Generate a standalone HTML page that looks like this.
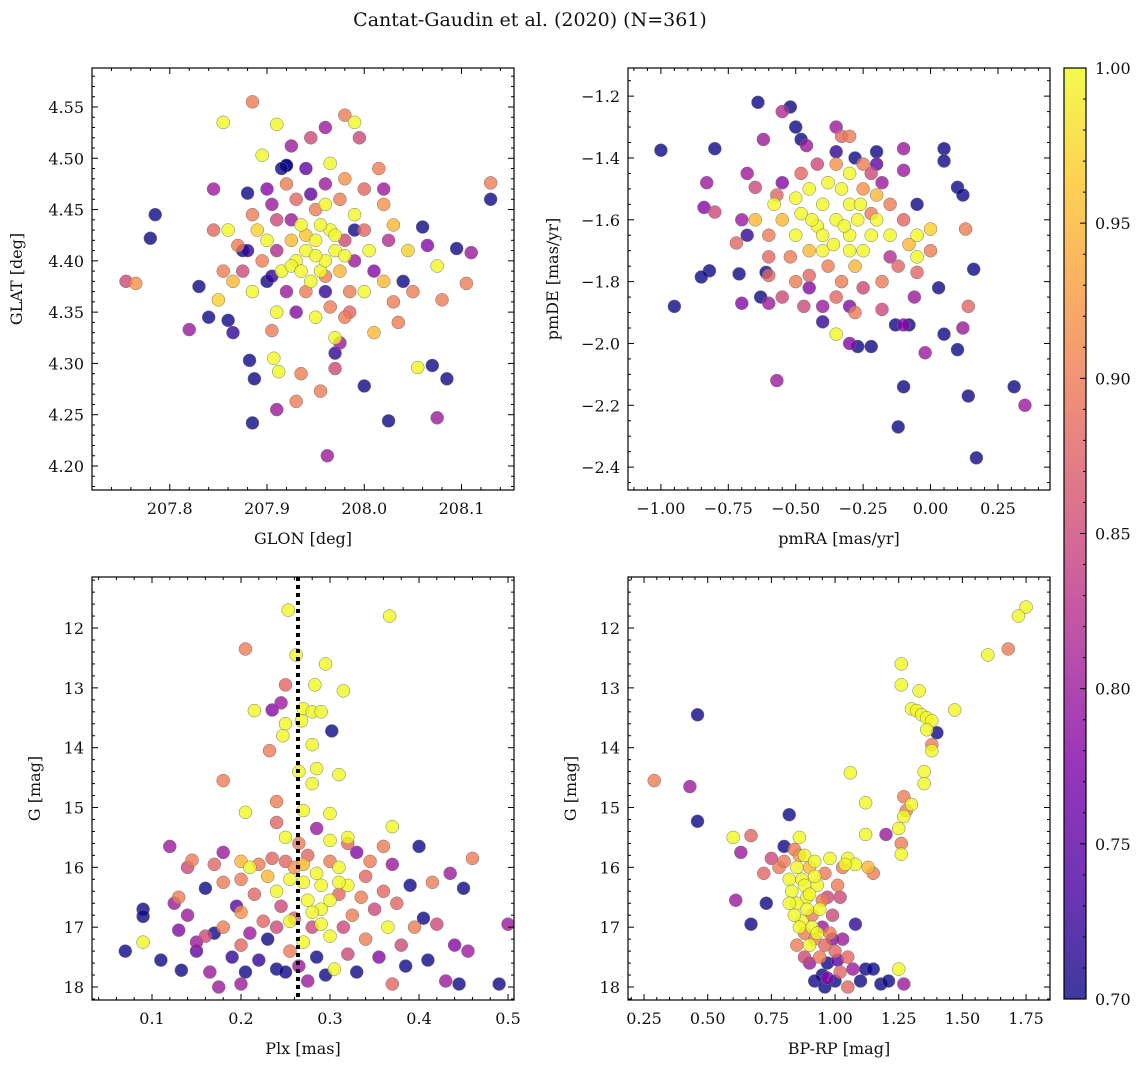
<!DOCTYPE html>
<html><head><meta charset="utf-8"><style>
body{margin:0;background:#fff;}
svg text{font-family:"DejaVu Serif","Liberation Serif",serif;fill:#111;}
</style></head><body>
<svg id="fig" width="1148" height="1067" viewBox="0 0 1148 1067" xmlns="http://www.w3.org/2000/svg">
<defs><linearGradient id="plasma" x1="0" y1="1" x2="0" y2="0">
<stop offset="0" stop-color="#0d0887"/><stop offset="0.125" stop-color="#4c02a1"/><stop offset="0.25" stop-color="#7e03a8"/><stop offset="0.375" stop-color="#a92395"/><stop offset="0.5" stop-color="#cc4778"/><stop offset="0.625" stop-color="#e66c5c"/><stop offset="0.75" stop-color="#f89540"/><stop offset="0.875" stop-color="#fdc527"/><stop offset="1" stop-color="#f0f921"/></linearGradient></defs>
<text x="530" y="26" font-size="19" text-anchor="middle">Cantat-Gaudin et al. (2020) (N=361)</text>
</svg>
<script>
// Panel 1: GLON vs GLAT
const p1x=[207.755,207.765,207.78,207.785,207.82,207.83,207.84,207.845,207.85,207.855,207.86,207.865,207.875,207.88,207.882,207.885,207.885,207.887,207.895,207.9,207.905,207.907,207.91,207.912,207.91,207.92,207.925,207.93,207.935,207.945,207.955,207.96,207.962,207.965,207.97,207.975,207.98,207.99,207.995,208.0,208.01,208.015,208.025,208.03,208.04,208.055,208.07,208.075,208.085,208.08,208.075,208.095,208.105,208.11,208.13,208.13,208.06,208.065,208.045,208.05,208.035,208.02,207.93,207.94,207.95,207.955,207.96,207.965,207.97,207.945,207.925,207.915,207.935,207.95,207.96,207.975,207.98,207.99,207.985,207.94,207.92,207.905,207.895,207.9,207.91,207.93,207.945,207.975,207.99,208.0,208.005,208.01,208.0,207.985,207.965,207.95,207.93,207.91,207.885,207.875,207.89,207.885,207.905,207.92,207.96,207.98,208.0,208.02,208.025,208.02,207.955,207.94,207.97,207.925,207.96,207.935,207.95,207.98,207.91,207.925,207.86,207.87,207.865,207.92,207.915,207.94,207.88,207.9,207.96,207.99,207.97,208.03,207.845,207.855,207.97,207.98];
const p1y=[4.38,4.378,4.422,4.445,4.333,4.375,4.345,4.47,4.362,4.535,4.342,4.33,4.41,4.466,4.303,4.555,4.242,4.285,4.503,4.47,4.332,4.305,4.255,4.292,4.533,4.493,4.512,4.263,4.29,4.52,4.273,4.53,4.21,4.495,4.31,4.32,4.542,4.535,4.52,4.278,4.33,4.49,4.244,4.435,4.38,4.296,4.298,4.247,4.285,4.362,4.395,4.412,4.378,4.408,4.476,4.46,4.433,4.415,4.41,4.37,4.34,4.47,4.40,4.41,4.42,4.39,4.40,4.43,4.41,4.38,4.42,4.39,4.435,4.45,4.455,4.39,4.42,4.40,4.37,4.37,4.37,4.385,4.40,4.42,4.44,4.46,4.465,4.46,4.445,4.43,4.41,4.39,4.37,4.35,4.355,4.345,4.35,4.35,4.37,4.39,4.43,4.445,4.455,4.475,4.475,4.48,4.47,4.455,4.42,4.38,4.435,4.425,4.425,4.395,4.385,4.39,4.405,4.405,4.41,4.44,4.43,4.415,4.38,4.493,4.49,4.49,4.41,4.38,4.37,4.43,4.325,4.36,4.43,4.39,4.295,4.345];
const p1p=[0.85,0.92,0.7,0.7,0.8,0.7,0.7,0.8,0.97,1,0.7,0.72,0.7,0.7,0.7,0.9,0.7,0.7,1,0.78,0.9,1,0.8,1,1,0.7,0.8,0.9,0.9,0.85,0.9,0.8,0.8,1,0.72,0.8,0.9,1,0.85,0.7,0.95,0.9,0.7,0.95,0.7,1,0.7,0.8,0.7,0.9,1,0.7,0.9,0.8,0.9,0.7,0.7,0.78,0.97,0.9,0.9,0.8,1,1,1,1,1,1,1,1,0.95,1,1,0.9,1,0.95,0.85,0.8,0.9,0.9,0.8,0.72,0.9,1,0.85,0.88,0.75,0.9,1,0.88,1,0.78,1,0.88,0.9,1,0.78,1,1,0.85,0.97,0.9,0.8,0.9,0.8,0.92,0.88,0.92,0.82,0.95,1,0.96,1,1,0.9,1,1,1,0.82,0.8,1,0.9,0.95,0.7,0.7,0.75,0.72,0.7,0.72,0.7,1,0.9,0.88,0.9,0.85,0.9];
// Panel 2: pmRA vs pmDE
const p2x=[-1.0,-0.95,-0.8,-0.82,-0.85,-0.84,-0.83,-0.8,-0.72,-0.7,-0.7,-0.68,-0.68,-0.71,-0.65,-0.64,-0.62,-0.63,-0.6,-0.61,-0.57,-0.57,-0.55,-0.52,-0.5,-0.48,-0.46,-0.4,-0.35,-0.33,-0.3,-0.28,-0.2,-0.22,-0.1,-0.1,-0.05,0.05,0.05,0.1,0.12,0.13,0.16,0.14,0.12,0.1,0.05,0.03,-0.02,-0.05,-0.06,-0.08,-0.1,-0.13,-0.18,-0.1,-0.12,0.14,0.17,0.31,0.35,-0.27,-0.3,-0.22,-0.35,-0.4,-0.45,-0.5,-0.55,-0.6,-0.45,-0.4,-0.35,-0.3,-0.25,-0.3,-0.38,-0.42,-0.48,-0.5,-0.45,-0.2,-0.15,-0.28,-0.33,-0.38,-0.45,-0.52,-0.55,-0.58,-0.3,-0.25,-0.2,-0.15,-0.1,-0.05,0.0,-0.05,-0.12,-0.18,-0.25,-0.35,-0.4,-0.28,-0.42,-0.35,-0.25,-0.18,-0.48,-0.55,-0.36,-0.32,-0.27,-0.44,-0.4,-0.3,-0.22,-0.5,-0.6,-0.65,-0.15,-0.08,0.0,-0.33,-0.26,-0.22,-0.6,-0.47,-0.3,-0.2,-0.35];
const p2y=[-1.375,-1.88,-1.37,-1.765,-1.785,-1.56,-1.48,-1.575,-1.675,-1.87,-1.6,-1.65,-1.45,-1.775,-1.495,-1.22,-1.34,-1.85,-1.87,-1.77,-2.12,-1.52,-1.25,-1.235,-1.3,-1.34,-1.36,-1.7,-1.3,-1.33,-1.33,-1.4,-1.38,-1.45,-1.37,-1.44,-1.55,-1.37,-1.41,-1.495,-1.52,-1.63,-1.76,-1.88,-1.95,-2.02,-1.97,-1.82,-2.03,-1.77,-1.85,-1.94,-1.94,-1.94,-1.89,-2.14,-2.27,-2.17,-2.37,-2.14,-2.2,-2.01,-2.0,-2.01,-1.97,-1.93,-1.82,-1.8,-1.85,-1.72,-1.5,-1.55,-1.6,-1.65,-1.7,-1.55,-1.48,-1.62,-1.58,-1.65,-1.7,-1.6,-1.65,-1.75,-1.8,-1.75,-1.78,-1.72,-1.6,-1.55,-1.45,-1.5,-1.52,-1.55,-1.6,-1.65,-1.7,-1.72,-1.75,-1.8,-1.82,-1.85,-1.88,-1.9,-1.42,-1.42,-1.42,-1.48,-1.45,-1.48,-1.68,-1.62,-1.6,-1.6,-1.65,-1.7,-1.65,-1.53,-1.65,-1.6,-1.72,-1.68,-1.63,-1.5,-1.55,-1.58,-1.78,-1.88,-1.88,-1.42,-1.38];
const p2p=[0.7,0.7,0.7,0.7,0.7,0.78,0.8,0.85,0.88,0.78,0.8,0.72,0.8,0.7,0.85,0.7,0.8,0.7,0.8,0.7,0.8,0.88,0.82,0.7,0.7,0.7,0.8,1,0.8,0.88,0.9,0.7,0.7,0.85,0.8,0.8,0.7,0.7,0.7,0.7,0.7,0.9,0.7,0.88,0.8,0.7,0.7,0.7,0.8,0.88,0.8,0.7,0.78,0.7,0.85,0.7,0.7,0.7,0.7,0.7,0.8,0.7,0.78,0.7,1,0.72,0.78,0.9,0.85,0.88,1,1,1,1,1,1,1,1,1,1,0.95,1,1,0.95,0.9,0.9,0.88,0.9,0.95,1,1,0.92,0.95,0.9,0.88,1,0.9,1,0.88,0.9,0.85,0.88,0.8,0.9,0.85,0.92,0.9,0.8,0.88,0.78,1,1,1,1,1,1,1,1,0.9,0.95,0.82,0.95,0.97,1,1,0.9,0.88,0.85,0.78,0.75,0.72];
// Panel 3: Plx vs G
const p3x=[0.253,0.367,0.205,0.262,0.295,0.283,0.315,0.25,0.245,0.235,0.215,0.27,0.28,0.29,0.268,0.25,0.247,0.302,0.232,0.28,0.265,0.28,0.285,0.31,0.18,0.24,0.27,0.3,0.205,0.32,0.37,0.24,0.25,0.285,0.07,0.09,0.09,0.09,0.11,0.12,0.125,0.13,0.13,0.133,0.14,0.14,0.145,0.15,0.15,0.16,0.16,0.165,0.17,0.17,0.175,0.18,0.18,0.18,0.19,0.195,0.2,0.2,0.2,0.2,0.205,0.2,0.21,0.21,0.215,0.22,0.22,0.225,0.23,0.23,0.235,0.24,0.24,0.24,0.245,0.25,0.25,0.255,0.255,0.26,0.26,0.265,0.27,0.27,0.275,0.275,0.275,0.28,0.285,0.285,0.29,0.29,0.295,0.3,0.3,0.3,0.305,0.31,0.31,0.315,0.32,0.32,0.32,0.325,0.33,0.33,0.335,0.34,0.34,0.345,0.35,0.355,0.36,0.36,0.365,0.37,0.37,0.375,0.38,0.385,0.39,0.395,0.4,0.405,0.41,0.415,0.42,0.43,0.435,0.44,0.445,0.45,0.455,0.46,0.49,0.5,0.3,0.265,0.28,0.29,0.255,0.31,0.27];
const p3y=[11.7,11.8,12.35,12.45,12.6,12.95,13.05,12.95,13.25,13.37,13.38,13.35,13.4,13.4,13.55,13.6,13.8,13.72,14.05,13.95,14.4,14.6,14.35,14.45,14.55,14.9,15.05,15.1,15.08,15.5,15.32,15.25,15.5,15.35,17.4,16.7,16.82,17.25,17.55,15.65,16.6,16.5,17.05,17.72,16.0,16.8,15.88,17.25,17.4,16.35,17.15,17.75,15.95,17.1,18.0,15.75,16.25,17.0,17.5,16.65,15.9,16.2,16.75,17.3,17.75,17.95,16.0,17.1,16.45,15.95,17.55,16.9,16.15,17.2,15.85,16.4,17.7,17.0,16.65,15.9,17.75,16.2,17.4,16.0,16.85,17.65,16.25,17.25,15.8,16.55,17.9,17.0,16.1,17.5,16.3,16.7,17.8,15.9,16.55,17.15,17.7,16.0,16.45,17.0,15.6,16.3,17.45,16.8,15.75,17.75,16.5,16.15,17.2,15.9,16.7,17.5,15.65,16.4,17.0,15.95,17.95,16.6,17.3,17.65,16.3,17.0,15.65,16.85,17.55,16.25,16.95,17.9,16.1,17.3,17.95,16.35,17.4,15.85,17.95,16.95,15.55,15.6,16.75,16.95,16.9,16.25,15.95];
const p3p=[1,1,0.9,1,1,1,1,0.88,0.8,0.78,1,1,1,1,1,1,1,0.7,0.9,1,1,1,1,1,0.9,0.9,1,1,1,1,1,0.88,1,0.8,0.7,0.7,0.7,1,0.7,0.8,0.8,0.9,0.78,0.7,0.85,0.8,0.9,0.8,0.75,0.7,0.85,0.8,0.88,0.7,0.8,0.8,0.9,0.9,0.72,0.75,0.95,0.9,0.92,0.88,0.7,0.8,1,0.8,0.88,0.9,0.72,0.88,0.95,0.7,0.88,1,0.7,0.85,0.85,0.88,0.7,1,0.9,0.92,0.88,0.8,1,1,0.88,1,0.8,0.85,1,0.7,1,1,0.7,0.9,1,1,1,1,0.88,0.85,0.88,1,0.85,0.9,0.78,0.7,0.9,0.88,0.9,0.9,0.85,0.78,0.9,0.88,1,0.8,0.88,0.88,0.85,0.7,0.7,0.9,0.7,0.7,0.7,0.9,0.85,0.8,0.8,0.78,0.7,0.7,0.8,0.9,0.7,0.8,1,0.9,1,1,1,1,0.95];
// Panel 4: BP-RP vs G
const p4x=[1.75,1.72,1.68,1.6,1.26,1.26,1.33,1.47,1.3,1.32,1.34,1.36,1.38,1.4,1.38,1.38,1.36,1.35,1.35,1.27,1.3,1.28,1.27,1.25,1.26,1.26,1.2,1.12,1.12,1.06,1.05,1.08,1.13,1.15,1.25,0.29,0.43,0.46,0.46,0.6,0.61,0.63,0.67,0.67,0.72,0.73,0.75,0.8,0.82,0.78,0.8,0.82,0.83,0.84,0.85,0.85,0.86,0.87,0.87,0.88,0.88,0.89,0.9,0.9,0.9,0.91,0.92,0.92,0.93,0.94,0.94,0.95,0.95,0.96,0.96,0.97,0.97,0.98,0.98,0.99,1.0,1.0,1.01,1.02,1.03,1.03,1.05,1.05,1.07,1.08,1.1,1.12,1.15,1.18,1.21,1.27,0.92,0.96,0.86,0.84,0.88,0.89,0.91,0.93,0.82,0.86,0.95,0.99,1.01,0.97,1.04,0.9,0.85,0.88,0.92,1.02];
const p4y=[11.65,11.8,12.35,12.45,12.6,12.95,13.05,13.37,13.35,13.38,13.45,13.5,13.55,13.75,13.95,14.05,13.7,14.4,14.6,14.82,14.95,15.05,15.15,15.35,15.6,15.78,15.45,15.45,14.92,14.42,15.85,15.95,16.0,16.1,17.7,14.55,14.65,13.45,15.23,15.5,16.55,15.75,15.47,16.95,16.1,16.6,15.85,15.65,15.12,16.0,15.9,16.2,16.4,15.7,16.0,16.6,15.5,16.2,16.9,17.1,15.8,16.5,17.3,16.0,17.6,16.8,15.9,17.2,16.3,17.5,16.7,17.0,17.8,16.1,17.3,16.5,17.6,15.85,17.1,16.8,17.4,17.9,16.3,17.75,17.2,16.0,17.5,18.0,17.7,16.95,17.9,17.7,17.7,17.95,17.9,17.95,17.9,18.0,17.0,16.8,16.3,16.7,17.0,17.1,16.6,15.8,16.55,17.2,17.55,17.85,15.95,16.45,17.3,17.5,16.15,16.5];
const p4p=[1,1,0.9,1,1,1,1,1,1,1,1,1,1,0.7,0.9,1,1,1,1,0.9,1,0.9,1,1,0.9,1,0.8,1,1,1,1,1,0.95,0.9,1,0.9,0.8,0.7,0.7,1,0.8,0.8,0.88,0.7,0.88,0.7,0.85,0.7,0.7,0.9,0.9,1,1,0.9,1,1,1,1,1,0.9,1,1,1,0.95,0.8,0.9,1,0.9,1,0.9,1,0.8,0.7,0.9,0.88,0.85,0.7,1,0.9,0.85,0.88,0.7,0.9,0.88,0.8,0.9,0.88,0.88,0.8,0.72,0.7,0.7,0.7,0.7,0.7,0.8,0.7,0.7,1,1,1,1,1,1,1,0.92,0.9,0.78,0.75,0.78,1,1,0.9,0.85,1,0.85];
// Colorbar ticks
const cbTicks=[0.70,0.75,0.80,0.85,0.90,0.95,1.00];

const NS='http://www.w3.org/2000/svg';
const svg=document.getElementById('fig');
function mk(tag,attrs,parent){const e=document.createElementNS(NS,tag);for(const k in attrs)e.setAttribute(k,attrs[k]);(parent||svg).appendChild(e);return e;}
const stops=[[0,[13,8,135]],[0.125,[76,2,161]],[0.25,[126,3,168]],[0.375,[169,35,149]],[0.5,[204,71,120]],[0.625,[230,108,92]],[0.75,[248,149,64]],[0.875,[253,197,39]],[1,[240,249,33]]];
function cmap(p){let t=Math.max(0,Math.min(1,(p-0.7)/0.3));for(let i=1;i<stops.length;i++){if(t<=stops[i][0]){const a=stops[i-1],b=stops[i];const f=(t-a[0])/(b[0]-a[0]);const c=a[1].map((v,j)=>Math.round(v+(b[1][j]-v)*f));return `rgb(${c})`;}}return 'rgb(240,249,33)';}
function fmt(v,d){let s=Math.abs(v).toFixed(d);return (v<-1e-9?'\u2212':'')+s;}

function panel(cfg){
  const {name,x0,y0,w,h,xmin,xmax,ymin,ymax,invY,xs,ys,ps,xMaj,xMin,yMaj,yMin,xd,yd,xlabel,ylabel,ylx}=cfg;
  const g=mk('g',{});
  
  
  const sx=v=>x0+(v-xmin)/(xmax-xmin)*w;
  const sy=v=>invY? y0+(v-ymin)/(ymax-ymin)*h : y0+h-(v-ymin)/(ymax-ymin)*h;
  const clip='c'+name;const cp=mk('clipPath',{id:clip},g);mk('rect',{x:x0,y:y0,width:w,height:h},cp);
  const pts=mk('g',{'clip-path':`url(#${clip})`},g);
  
  
  const idx=ps.map((p,i)=>i).sort((a,b)=>ps[a]-ps[b]);
  idx.forEach(i=>{const c=mk('circle',{cx:sx(xs[i]),cy:sy(ys[i]),r:6.5,fill:cmap(ps[i]),'fill-opacity':0.8,stroke:'#777','stroke-width':0.5},pts);
    
    });
  if(cfg.vline!==undefined){const l=mk('line',{x1:sx(cfg.vline),x2:sx(cfg.vline),y1:y0,y2:y0+h,stroke:'#000','stroke-width':4,'stroke-dasharray':'4,4'},g);
    
    }
  mk('rect',{x:x0,y:y0,width:w,height:h,fill:'none',stroke:'#000','stroke-width':1.2},g);
  const tk=mk('g',{stroke:'#000','stroke-width':1},g);
  const lo=Math.min(xmin,xmax),hi=Math.max(xmin,xmax);
  for(let v=Math.ceil(lo/xMin-1e-6)*xMin;v<=hi+1e-9;v+=xMin){const X=sx(v);const major=Math.abs(v/xMaj-Math.round(v/xMaj))<1e-4;const L=major?6:3;
    mk('line',{x1:X,x2:X,y1:y0+h,y2:y0+h-L},tk);mk('line',{x1:X,x2:X,y1:y0,y2:y0+L},tk);
    if(major){const t=mk('text',{x:X,y:y0+h+24,'font-size':16,'text-anchor':'middle'},g);t.textContent=fmt(Math.round(v/xMaj)*xMaj,xd);
      }}
  const ylo=Math.min(ymin,ymax),yhi=Math.max(ymin,ymax);
  for(let v=Math.ceil(ylo/yMin-1e-6)*yMin;v<=yhi+1e-9;v+=yMin){const Y=sy(v);const major=Math.abs(v/yMaj-Math.round(v/yMaj))<1e-4;const L=major?6:3;
    mk('line',{x1:x0,x2:x0+L,y1:Y,y2:Y},tk);mk('line',{x1:x0+w,x2:x0+w-L,y1:Y,y2:Y},tk);
    if(major){const t=mk('text',{x:x0-8,y:Y+6,'font-size':16,'text-anchor':'end'},g);t.textContent=fmt(Math.round(v/yMaj)*yMaj,yd);
      }}
  const xl=mk('text',{x:x0+w/2,y:y0+h+54,'font-size':16,'text-anchor':'middle'},g);xl.textContent=xlabel;
  
  const yl=mk('text',{x:ylx,y:y0+h/2,'font-size':16,'text-anchor':'middle',transform:`rotate(-90 ${ylx} ${y0+h/2})`},g);yl.textContent=ylabel;
  
}
panel({name:'glon-glat-panel',x0:92,y0:68,w:422,h:422,xmin:207.72,xmax:208.154,ymin:4.1766,ymax:4.588,xs:p1x,ys:p1y,ps:p1p,xMaj:0.1,xMin:0.02,yMaj:0.05,yMin:0.01,xd:1,yd:2,xlabel:'GLON [deg]',ylabel:'GLAT [deg]',ylx:22});
panel({name:'proper-motion-panel',x0:628,y0:68,w:422,h:422,xmin:-1.122,xmax:0.443,ymin:-2.474,ymax:-1.109,xs:p2x,ys:p2y,ps:p2p,xMaj:0.25,xMin:0.05,yMaj:0.2,yMin:0.05,xd:2,yd:1,xlabel:'pmRA [mas/yr]',ylabel:'pmDE [mas/yr]',ylx:558});
panel({name:'parallax-mag-panel',x0:92,y0:577,w:422,h:423,xmin:0.0326,xmax:0.5067,ymin:11.147,ymax:18.217,invY:true,xs:p3x,ys:p3y,ps:p3p,xMaj:0.1,xMin:0.02,yMaj:1,yMin:0.2,xd:1,yd:0,xlabel:'Plx [mas]',ylabel:'G [mag]',ylx:40,vline:0.264});
panel({name:'cmd-panel',x0:628,y0:577,w:422,h:423,xmin:0.187,xmax:1.844,ymin:11.147,ymax:18.217,invY:true,xs:p4x,ys:p4y,ps:p4p,xMaj:0.25,xMin:0.05,yMaj:1,yMin:0.2,xd:2,yd:0,xlabel:'BP-RP [mag]',ylabel:'G [mag]',ylx:576});
// colorbar
const cb=mk('g',{});


mk('rect',{x:1064,y:68,width:22,height:931,fill:'url(#plasma)','fill-opacity':0.8},cb);
mk('rect',{x:1064,y:68,width:22,height:931,fill:'none',stroke:'#000','stroke-width':1.2},cb);
const cy=v=>999-(v-0.7)/0.3*931;
for(let k=0;k<=30;k++){const v=0.7+k*0.01;const major=k%5===0;mk('line',{x1:1086,x2:1086-(major?6:3),y1:cy(v),y2:cy(v),stroke:'#000'},cb);}
cbTicks.forEach(v=>{const t=mk('text',{x:1095,y:cy(v)+6,'font-size':16},cb);t.textContent=v.toFixed(2);
  });
</script>
</body></html>
